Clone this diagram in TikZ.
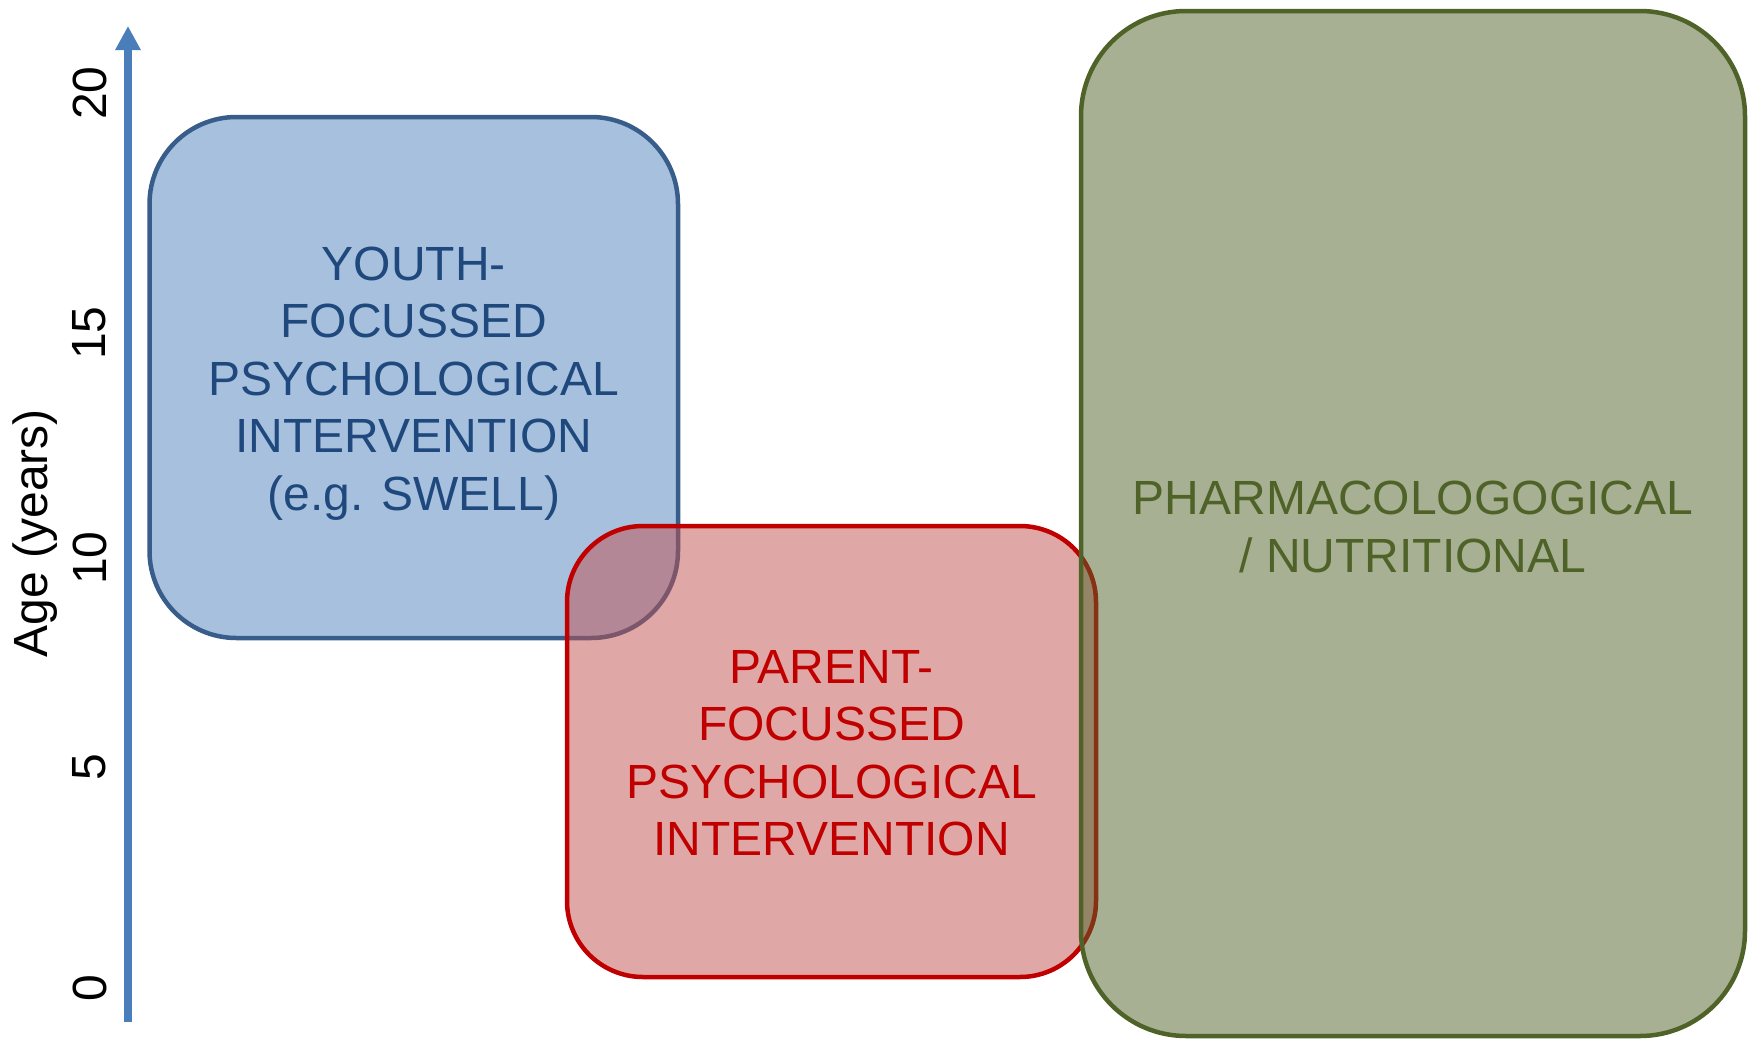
\documentclass[tikz,border=0pt]{standalone}
\usepackage{fontspec}
\setmainfont{Liberation Sans}
\usetikzlibrary{arrows.meta}
\definecolor{bluefill}{HTML}{4F81BD}
\definecolor{bluedraw}{HTML}{385D8A}
\definecolor{bluetext}{HTML}{1F497D}
\definecolor{redfill}{HTML}{C0504D}
\definecolor{reddraw}{HTML}{C00000}
\definecolor{greenc}{HTML}{4F6228}
\definecolor{axisc}{HTML}{4A7EBB}
\tikzset{
  agebox/.style={rectangle, inner sep=0pt, line width=2.25pt, fill opacity=0.5},
  boxtext/.style={inner sep=0pt, align=center, font=\fontsize{24pt}{28.75pt}\selectfont},
  tick/.style={rotate=90, inner sep=0pt, font=\fontsize{24pt}{28.75pt}\selectfont},
  ageaxis/.style={draw=axisc, line width=4pt, -{Triangle[width=12pt,length=12pt]}},
}
\begin{document}
\begin{tikzpicture}[x=0.5pt,y=-0.5pt]
\useasboundingbox (0,0) rectangle (1752,1039);
% axis
\coordinate (axbot) at (128,1022);
\coordinate (axtop) at (128,26);
\draw[ageaxis] (axbot) -- (axtop);
% tick labels
\node[tick] (t20) at (89.5,93) {20};
\node[tick] (t15) at (89.5,333) {15};
\node[tick] (t10) at (89.5,558) {10};
\node[tick] (t5) at (89.5,767) {5};
\node[tick] (t0) at (89.5,988) {0};
\node[tick] (agelab) at (35.5,533) {Age (years)};
% boxes
\node[agebox, draw=bluedraw, fill=bluefill, rounded corners=43.5pt,
  minimum width=264.25pt, minimum height=260.5pt] (youth) at (413.75,377.5) {};
\node[boxtext, text=bluetext] (youthtxt) at ([yshift=-3pt]youth.center)
  {YOUTH-\\FOCUSSED\\PSYCHOLOGICAL\\INTERVENTION\\(e.g. SWELL)};
\node[agebox, draw=reddraw, fill=redfill, rounded corners=38pt,
  minimum width=264.5pt, minimum height=225.5pt] (parent) at (831.5,751.5) {};
\node[boxtext, text=reddraw] (parenttxt) at ([yshift=-0.8pt]parent.center)
  {PARENT-\\FOCUSSED\\PSYCHOLOGICAL\\INTERVENTION};
\node[agebox, draw=greenc, fill=greenc, rounded corners=52.5pt,
  minimum width=332pt, minimum height=512.5pt] (pharm) at (1413,523.5) {};
\node[boxtext, text=greenc] (pharmtxt) at ([yshift=-1.8pt]pharm.center)
  {PHARMACOLOGOGICAL\\/ NUTRITIONAL};
\end{tikzpicture}
\end{document}
